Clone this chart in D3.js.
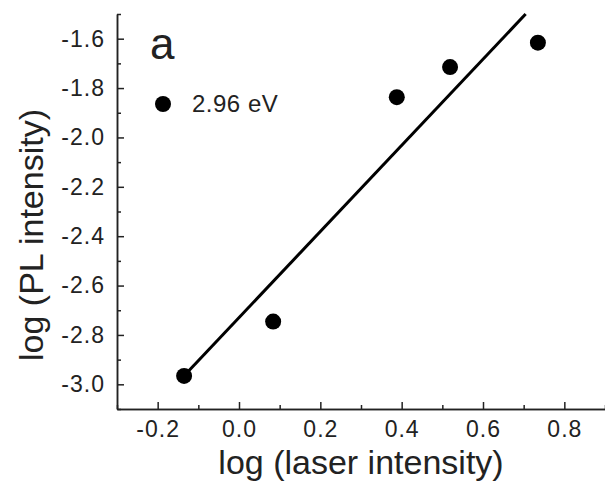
<!DOCTYPE html>
<html>
<head>
<meta charset="utf-8">
<script src="https://cdnjs.cloudflare.com/ajax/libs/d3/7.8.5/d3.min.js"></script>
<style>
	body { margin: 0; background: #fff; }
	svg { display: block; }
	.tick text { font-family: "Liberation Sans", Arial, sans-serif; font-size: 23px; letter-spacing: 1px; fill: #222; }
	.axis path, .axis line { stroke: #222; stroke-width: 1.5px; }
</style>
</head>
<body>
<div id="chart_holder"></div>
<script>
//log-log plot of PL intensity against laser intensity, with a linear fit

var laserLog = [-0.135, 0.084, 0.388, 0.519, 0.735];
var plLog = [-2.966, -2.746, -1.837, -1.715, -1.616];

//fit line: y = slope * x + intercept, starting at the first point
var fitSlope = 1.745;
var fitIntercept = -2.730;
var fitStartX = -0.135;

var xMajorTicks = [-0.2, 0.0, 0.2, 0.4, 0.6, 0.8];
var xMinorTicks = [-0.3, -0.1, 0.1, 0.3, 0.5, 0.7, 0.9];
var yMajorTicks = [-3.0, -2.8, -2.6, -2.4, -2.2, -2.0, -1.8, -1.6];
var yMinorTicks = [-3.1, -2.9, -2.7, -2.5, -2.3, -2.1, -1.9, -1.7, -1.5];

var seriesLabel = "2.96 eV";
var panelLabel = "a";
var xTitle = "log (laser intensity)";
var yTitle = "log (PL intensity)";

var width = 605, height = 486;
var font = '"Liberation Sans", Arial, sans-serif';

var svg = d3.select("#chart_holder").append("svg")
	.attr("width", width)
	.attr("height", height);

var x = d3.scaleLinear().domain([-0.3, 0.9]).range([117, 605]);
var y = d3.scaleLinear().domain([-3.1, -1.5]).range([409, 14]);

//plain hyphen minus, d3 would give the unicode one otherwise
var fmt = function(d) { return d.toFixed(1); };

//major ticks point inward, labels outside
svg.append("g")
	.attr("class", "axis")
	.attr("transform", "translate(0," + y.range()[0] + ")")
	.call(d3.axisBottom(x).tickValues(xMajorTicks).tickFormat(fmt).tickSize(-7).tickPadding(12).tickSizeOuter(0));

svg.append("g")
	.attr("class", "axis")
	.attr("transform", "translate(0," + y.range()[0] + ")")
	.call(d3.axisBottom(x).tickValues(xMinorTicks).tickFormat("").tickSize(-4).tickSizeOuter(0));

svg.append("g")
	.attr("class", "axis")
	.attr("transform", "translate(" + x.range()[0] + ",0)")
	.call(d3.axisLeft(y).tickValues(yMajorTicks).tickFormat(fmt).tickSize(-7).tickPadding(12).tickSizeOuter(0));

svg.append("g")
	.attr("class", "axis")
	.attr("transform", "translate(" + x.range()[0] + ",0)")
	.call(d3.axisLeft(y).tickValues(yMinorTicks).tickFormat("").tickSize(-4).tickSizeOuter(0));

svg.selectAll(".domain").attr("stroke", "#222").attr("stroke-width", 1.5);

//axis titles
svg.append("text")
	.attr("x", (x.range()[0] + x.range()[1]) / 2)
	.attr("y", 474)
	.attr("text-anchor", "middle")
	.style("font-family", font)
	.style("font-size", "34px")
	.style("fill", "#222")
	.text(xTitle);

svg.append("text")
	.attr("transform", "translate(43,235) rotate(-90)")
	.attr("text-anchor", "middle")
	.style("font-family", font)
	.style("font-size", "34px")
	.style("fill", "#222")
	.text(yTitle);

//fit line, runs until it hits the top of the frame
var fitEndX = (y.domain()[1] - fitIntercept) / fitSlope;
var fitLine = d3.line()
	.x(function(d) { return x(d); })
	.y(function(d) { return y(fitSlope * d + fitIntercept); });

svg.append("path")
	.datum([fitStartX, fitEndX])
	.attr("d", fitLine)
	.attr("fill", "none")
	.attr("stroke", "#000")
	.attr("stroke-width", 3);

//points
svg.selectAll(".dot")
	.data(laserLog)
	.enter().append("circle")
		.attr("class", "dot")
		.attr("cx", function(d) { return x(d); })
		.attr("cy", function(d, i) { return y(plLog[i]); })
		.attr("r", 8)
		.style("fill", "#000");

//legend + panel letter
svg.append("circle")
	.attr("cx", 163)
	.attr("cy", 104)
	.attr("r", 8)
	.style("fill", "#000");

svg.append("text")
	.attr("x", 192)
	.attr("y", 112)
	.style("font-family", font)
	.style("font-size", "24px")
	.style("letter-spacing", "0.5px")
	.style("fill", "#222")
	.text(seriesLabel);

svg.append("text")
	.attr("x", 150)
	.attr("y", 59)
	.style("font-family", font)
	.style("font-size", "44px")
	.style("fill", "#222")
	.text(panelLabel);
</script>
</body>
</html>
